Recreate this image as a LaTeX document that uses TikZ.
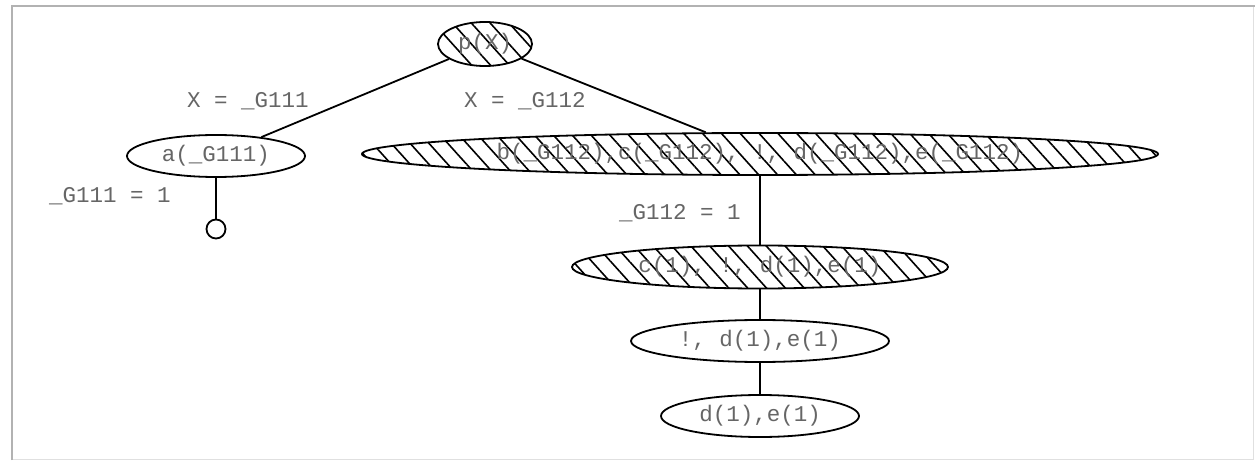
\documentclass[tikz,border=0pt]{standalone}
\usepackage{fontspec}
\setmonofont{Liberation Mono}
\usetikzlibrary{patterns.meta,shapes.geometric}
\tikzset{
  goal/.style={draw=black, line width=1.8pt, ellipse, inner sep=0pt,
    font=\ttfamily\fontsize{22.5}{24}\selectfont, text=black!60},
  hatched/.style={goal, pattern={Lines[angle=-48,distance=14pt,line width=1.6pt]}},
  lbl/.style={font=\ttfamily\fontsize{22.5}{24}\selectfont, text=black!60, inner sep=0pt},
  edge/.style={line width=1.8pt, black},
  leaf/.style={draw=black, line width=1.8pt, circle, minimum size=19pt, inner sep=0pt, fill=white}
}
\begin{document}
\begin{tikzpicture}[x=1pt,y=-1pt]
\useasboundingbox (0,0) rectangle (1255,462);
\fill[white] (0,0) rectangle (1255,462);
% frame
\draw[black!12, line width=1pt] (12,459) -- (1253,459) -- (1253,6);
\draw[black!30, line width=2pt] (12,460) -- (12,6) -- (1255,6);
% nodes
\node[hatched, minimum width=94pt, minimum height=44pt] (p) at (485,44) {p(X)};
\node[goal, minimum width=178pt, minimum height=42pt] (a) at (216,156) {a(\_G111)};
\node[hatched, minimum width=796pt, minimum height=42pt] (b) at (760,154) {b(\_G112),c(\_G112), !, d(\_G112),e(\_G112)};
\node[leaf] (l) at (216,229) {};
\node[hatched, minimum width=376pt, minimum height=43pt] (c) at (760,267) {c(1), !, d(1),e(1)};
\node[goal, minimum width=258pt, minimum height=42pt] (cut) at (760,341) {!, d(1),e(1)};
\node[goal, minimum width=198pt, minimum height=42pt] (d) at (760,416) {d(1),e(1)};
% edges
\draw[edge] (p) -- (a);
\draw[edge] (p) -- (b);
\draw[edge] (a) -- (l);
\draw[edge] (b) -- (c);
\draw[edge] (c) -- (cut);
\draw[edge] (cut) -- (d);
% labels
\node[lbl] (l1) at (248,101) {X = \_G111};
\node[lbl] (l2) at (525,101) {X = \_G112};
\node[lbl] (l3) at (110,196) {\_G111 = 1};
\node[lbl] (l4) at (680,213) {\_G112 = 1};
\end{tikzpicture}
\end{document}
